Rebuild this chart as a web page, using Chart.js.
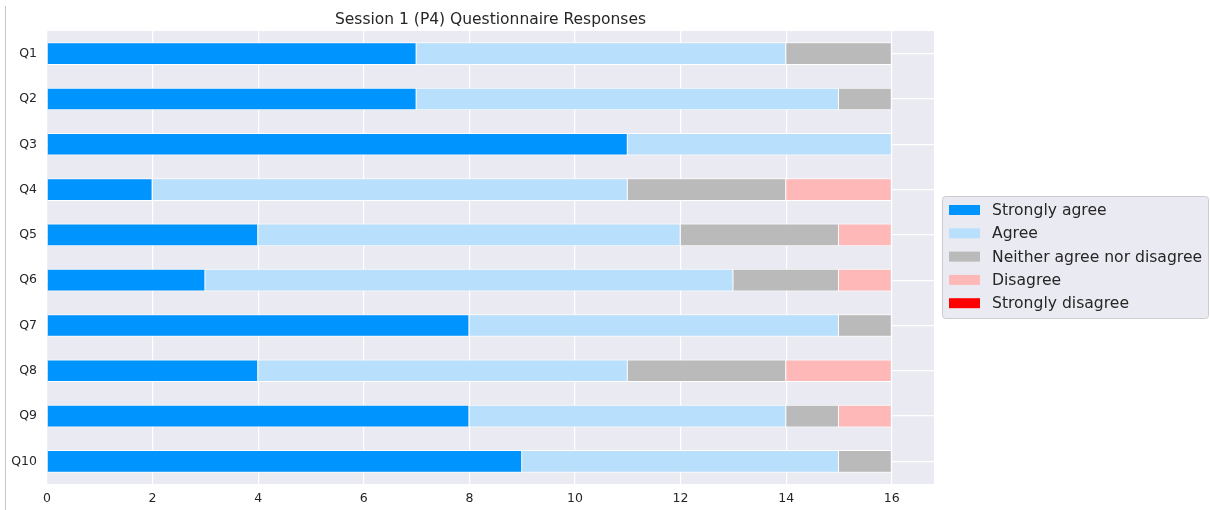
<!DOCTYPE html>
<html>
<head>
<meta charset="utf-8">
<script src="https://cdn.jsdelivr.net/npm/chart.js@4"></script>
<style>
  html, body { margin: 0; padding: 0; background: #fff; }
  #wrap { position: relative; width: 1210px; height: 510px; }
  #edge { position: absolute; left: 5px; top: 6px; width: 1px; height: 504px; background: #c8c8c8; }
</style>
</head>
<body>
<div id="wrap">
  <div id="edge"></div>
  <canvas id="chart" width="1210" height="510"></canvas>
</div>
<script>
// Data.
var questions = ['Q1', 'Q2', 'Q3', 'Q4', 'Q5', 'Q6', 'Q7', 'Q8', 'Q9', 'Q10'];
var stronglyAgree = [7, 7, 11, 2, 4, 3, 8, 4, 8, 9];
var agree = [7, 8, 5, 9, 8, 10, 7, 7, 6, 6];
var neither = [2, 1, 0, 3, 3, 2, 1, 3, 1, 1];
var disagree = [0, 0, 0, 2, 1, 1, 0, 2, 1, 0];
var stronglyDisagree = [0, 0, 0, 0, 0, 0, 0, 0, 0, 0];
var xTicks = [0, 2, 4, 6, 8, 10, 12, 14, 16];

var seriesNames = ['Strongly agree', 'Agree', 'Neither agree nor disagree', 'Disagree', 'Strongly disagree'];
var seriesColors = ['#0094ff', '#b8e0fc', '#bababa', '#ffb8b8', '#ff0000'];
var seriesData = [stronglyAgree, agree, neither, disagree, stronglyDisagree];

var FONT = "'DejaVu Sans', sans-serif";
var TEXT = '#262626';

// Plot background, title and a matplotlib style legend.
var decor = {
    id: 'decor',
    beforeDraw: function (chart) {
        var a = chart.chartArea;
        var ctx = chart.ctx;
        ctx.save();
        ctx.fillStyle = '#eaeaf2';
        ctx.fillRect(a.left, a.top, a.right - a.left, a.bottom - a.top);
        ctx.restore();
    },
    afterDraw: function (chart) {
        var a = chart.chartArea;
        var ctx = chart.ctx;
        ctx.save();
        ctx.fillStyle = TEXT;
        ctx.font = '15.5px ' + FONT;
        ctx.textAlign = 'center';
        ctx.textBaseline = 'middle';
        ctx.fillText('Session 1 (P4) Questionnaire Responses', (a.left + a.right) / 2, 20);

        // Legend box.
        var bx = 942, by = 196, bw = 266, bh = 122;
        ctx.beginPath();
        ctx.roundRect(bx + 0.5, by + 0.5, bw, bh, 3);
        ctx.fillStyle = '#eaeaf2';
        ctx.fill();
        ctx.strokeStyle = '#cccccc';
        ctx.lineWidth = 1;
        ctx.stroke();

        ctx.font = '15.6px ' + FONT;
        ctx.textAlign = 'left';
        chart.data.datasets.forEach(function (ds, i) {
            var cy = by + 14 + i * 23.3;
            ctx.fillStyle = ds.backgroundColor;
            ctx.fillRect(bx + 7, cy - 5, 31, 10);
            ctx.fillStyle = TEXT;
            ctx.fillText(ds.label, bx + 50, cy + 1);
        });
        ctx.restore();
    }
};

new Chart(document.getElementById('chart'), {
    type: 'bar',
    data: {
        labels: questions,
        datasets: seriesData.map(function (vals, i) {
            return {
                label: seriesNames[i],
                data: vals,
                backgroundColor: seriesColors[i],
                borderColor: '#ffffff',
                borderWidth: 1,
                barPercentage: 0.5,
                categoryPercentage: 1.0
            };
        })
    },
    options: {
        indexAxis: 'y',
        responsive: false,
        animation: false,
        devicePixelRatio: 1,
        layout: { padding: { left: 0, right: 276, top: 31, bottom: 0 } },
        plugins: {
            legend: { display: false },
            title: { display: false },
            tooltip: { enabled: false }
        },
        scales: {
            x: {
                stacked: true,
                min: 0,
                max: 16.8,
                border: { display: false },
                grid: { color: '#ffffff', lineWidth: 1.2, drawTicks: false },
                ticks: { stepSize: 2, color: TEXT, font: { family: FONT, size: 12.5 }, padding: 7 },
                afterBuildTicks: function (scale) {
                    scale.ticks = xTicks.map(function (v) { return { value: v }; });
                },
                afterFit: function (scale) { scale.height = 26; }
            },
            y: {
                stacked: true,
                border: { display: false },
                grid: { color: '#ffffff', lineWidth: 1.2, drawTicks: false, offset: false },
                ticks: { color: TEXT, font: { family: FONT, size: 12.5 }, padding: 10 },
                afterFit: function (scale) { scale.width = 47; }
            }
        }
    },
    plugins: [decor]
});
</script>
</body>
</html>
